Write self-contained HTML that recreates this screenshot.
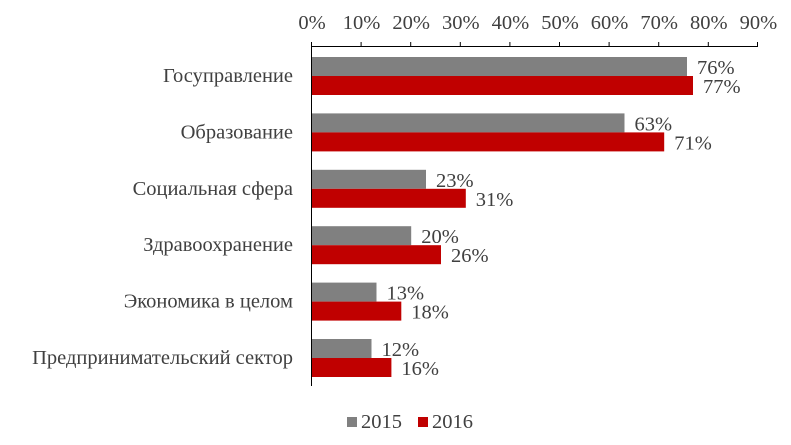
<!DOCTYPE html>
<html><head><meta charset="utf-8"><style>
html,body{margin:0;padding:0;background:#fff;}
svg text{font-family:"Liberation Serif",serif;fill:#404040;}
</style></head><body>
<svg width="791" height="440" viewBox="0 0 791 440" xmlns="http://www.w3.org/2000/svg">
<g font-size="20.5" text-anchor="middle">
<text x="312" y="29">0%</text><text x="361.6" y="29">10%</text><text x="411.2" y="29">20%</text><text x="460.8" y="29">30%</text><text x="510.4" y="29">40%</text><text x="560" y="29">50%</text><text x="609.6" y="29">60%</text><text x="659.2" y="29">70%</text><text x="708.8" y="29">80%</text><text x="758.4" y="29">90%</text>
</g>
<g stroke="#000" stroke-width="1">
<line x1="311.5" y1="46.5" x2="758" y2="46.5"/>
<line x1="311.5" y1="42" x2="311.5" y2="386"/>
<line x1="361.1" y1="42" x2="361.1" y2="47"/><line x1="410.7" y1="42" x2="410.7" y2="47"/><line x1="460.3" y1="42" x2="460.3" y2="47"/><line x1="509.9" y1="42" x2="509.9" y2="47"/><line x1="559.5" y1="42" x2="559.5" y2="47"/><line x1="609.1" y1="42" x2="609.1" y2="47"/><line x1="658.7" y1="42" x2="658.7" y2="47"/><line x1="708.3" y1="42" x2="708.3" y2="47"/><line x1="757.5" y1="42" x2="757.5" y2="47"/>
</g>
<g>
<rect x="312" y="57" width="375" height="19" fill="#808080"/><rect x="312" y="76" width="381" height="19" fill="#c00000"/>
<rect x="312" y="113.4" width="312.5" height="19" fill="#808080"/><rect x="312" y="132.4" width="352.2" height="19" fill="#c00000"/>
<rect x="312" y="169.8" width="114" height="19" fill="#808080"/><rect x="312" y="188.8" width="153.8" height="19" fill="#c00000"/>
<rect x="312" y="226.2" width="99.2" height="19" fill="#808080"/><rect x="312" y="245.2" width="129" height="19" fill="#c00000"/>
<rect x="312" y="282.6" width="64.5" height="19" fill="#808080"/><rect x="312" y="301.6" width="89.3" height="19" fill="#c00000"/>
<rect x="312" y="339" width="59.5" height="19" fill="#808080"/><rect x="312" y="358" width="79.4" height="19" fill="#c00000"/>
</g>
<g font-size="20.5">
<text x="697" y="74">76%</text><text x="703" y="93">77%</text>
<text x="634.5" y="130.4">63%</text><text x="674.2" y="149.4">71%</text>
<text x="436" y="186.8">23%</text><text x="475.8" y="205.8">31%</text>
<text x="421.2" y="243.2">20%</text><text x="451" y="262.2">26%</text>
<text x="386.5" y="299.6">13%</text><text x="411.3" y="318.6">18%</text>
<text x="381.5" y="356">12%</text><text x="401.4" y="375">16%</text>
</g>
<g font-size="20.5" text-anchor="end">
<text x="293" y="82">Госуправление</text>
<text x="293" y="138.4">Образование</text>
<text x="293" y="194.8">Социальная сфера</text>
<text x="293" y="251.2">Здравоохранение</text>
<text x="293" y="307.6">Экономика в целом</text>
<text x="293" y="364">Предпринимательский сектор</text>
</g>
<rect x="347" y="417" width="10" height="10" fill="#808080"/>
<text x="361" y="428" font-size="20.5">2015</text>
<rect x="418" y="417" width="10" height="10" fill="#c00000"/>
<text x="432" y="428" font-size="20.5">2016</text>
</svg>
</body></html>
